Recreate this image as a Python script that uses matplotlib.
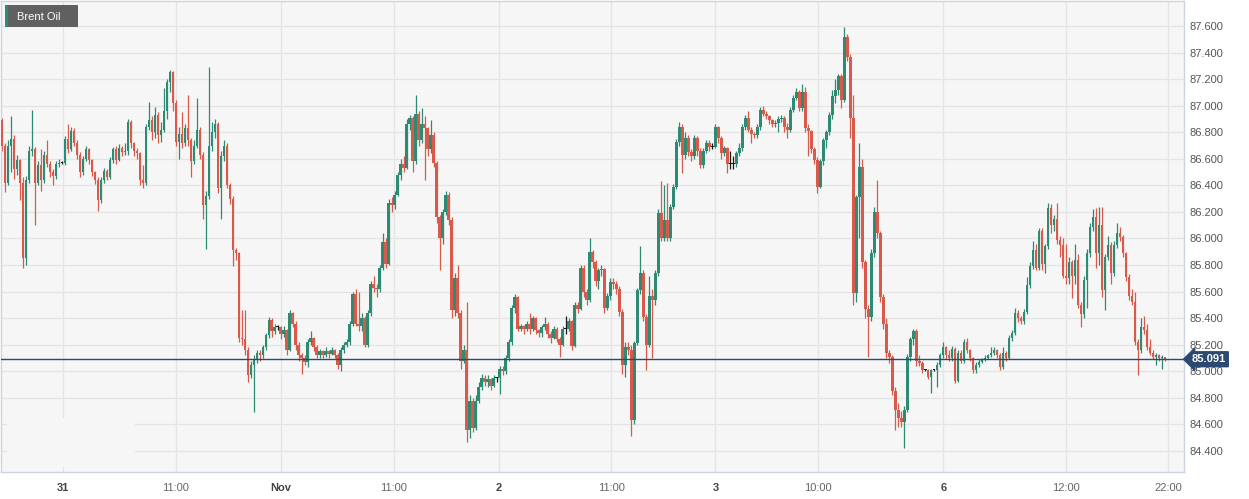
import numpy as np
import matplotlib.pyplot as plt
import matplotlib.patches as mpatches
import matplotlib.transforms as mtransforms

plt.rcParams['font.family'] = ['Liberation Sans', 'DejaVu Sans']

# -----------------------------------------
# Brent Oil candles, open = previous close
# -----------------------------------------
first_open = 86.89
last_price = 85.091

closes = [
    86.70, 86.42, 86.70, 86.75, 86.52, 86.59, 86.42, 85.85, 86.44, 86.66,
    86.67, 86.42, 86.55, 86.44, 86.63, 86.56, 86.50, 86.47, 86.56, 86.57,
    86.57, 86.75, 86.67, 86.81, 86.72, 86.63, 86.50, 86.60, 86.67, 86.59,
    86.50, 86.44, 86.29, 86.44, 86.51, 86.46, 86.59, 86.67, 86.59, 86.68,
    86.65, 86.66, 86.88, 86.72, 86.66, 86.64, 86.44, 86.42, 86.84, 86.89,
    86.80, 86.93, 86.78, 86.82, 86.96, 87.18, 87.25, 87.02, 86.73, 86.79,
    86.72, 86.83, 86.74, 86.58, 86.70, 86.82, 86.63, 86.25, 86.32, 86.70,
    86.80, 86.86, 86.38, 86.62, 86.70, 86.40, 86.30, 85.91, 85.89, 85.25,
    85.24, 85.16, 84.97, 85.05, 85.09, 85.14, 85.12, 85.18, 85.27, 85.39,
    85.30, 85.33, 85.33, 85.28, 85.31, 85.16, 85.44, 85.36, 85.20, 85.12,
    85.10, 85.07, 85.22, 85.25, 85.18, 85.12, 85.15, 85.12, 85.15, 85.13,
    85.16, 85.12, 85.05, 85.16, 85.20, 85.22, 85.36, 85.58, 85.36, 85.34,
    85.40, 85.20, 85.44, 85.66, 85.63, 85.62, 85.78, 85.97, 85.81, 86.27,
    86.25, 86.33, 86.48, 86.56, 86.53, 86.86, 86.91, 86.58, 86.94, 86.74,
    86.86, 86.83, 86.67, 86.78, 86.57, 86.16, 86.00, 86.20, 86.33, 86.14,
    85.46, 85.70, 85.44, 85.08, 85.16, 84.56, 84.78, 84.57, 84.78, 84.88,
    84.95, 84.92, 84.94, 84.89, 84.95, 84.95, 85.02, 85.00, 85.10, 85.22,
    85.48, 85.56, 85.32, 85.34, 85.32, 85.36, 85.32, 85.40, 85.31, 85.29,
    85.33, 85.36, 85.28, 85.25, 85.32, 85.24, 85.20, 85.32, 85.32, 85.38,
    85.19, 85.50, 85.47, 85.78, 85.60, 85.54, 85.90, 85.82, 85.68, 85.76,
    85.77, 85.48, 85.57, 85.67, 85.66, 85.62, 85.45, 85.05, 85.18, 85.16,
    84.63, 85.21, 85.61, 85.74, 85.41, 85.20, 85.57, 85.54, 85.74, 86.19,
    86.00, 86.14, 86.00, 86.24, 86.39, 86.73, 86.84, 86.63, 86.76, 86.65,
    86.62, 86.76, 86.66, 86.55, 86.66, 86.72, 86.69, 86.69, 86.84, 86.76,
    86.64, 86.68, 86.56, 86.56, 86.56, 86.64, 86.68, 86.84, 86.91, 86.82,
    86.79, 86.78, 86.84, 86.97, 86.94, 86.92, 86.89, 86.86, 86.87, 86.90,
    86.91, 86.84, 86.82, 86.97, 87.06, 87.10, 86.98, 87.10, 86.83, 86.81,
    86.67, 86.59, 86.39, 86.58, 86.74, 86.80, 86.93, 87.07, 87.12, 87.22,
    87.04, 87.52, 87.37, 86.91, 85.59, 86.31, 86.54, 85.82, 85.47, 85.41,
    85.89, 86.20, 86.04, 85.56, 85.36, 85.14, 85.11, 84.85, 84.71, 84.65,
    84.62, 84.71, 85.11, 85.24, 85.30, 85.08, 85.06, 85.01, 85.01, 84.96,
    85.01, 85.01, 85.05, 85.12, 85.18, 85.12, 85.10, 85.17, 84.93, 85.14,
    85.08, 85.22, 85.16, 85.10, 85.01, 85.05, 85.07, 85.09, 85.10, 85.12,
    85.14, 85.16, 85.12, 85.03, 85.14, 85.10, 85.25, 85.29, 85.44, 85.40,
    85.38, 85.45, 85.65, 85.79, 85.91, 85.78, 86.06, 85.81, 85.94, 86.23,
    86.10, 86.15, 85.99, 85.95, 85.72, 85.70, 85.82, 85.72, 85.84, 85.50,
    85.43, 85.69, 85.89, 86.09, 86.16, 85.89, 86.10, 85.61, 85.86, 85.95,
    85.74, 85.95, 86.04, 86.01, 85.89, 85.71, 85.57, 85.52, 85.22, 85.16,
    85.33, 85.31, 85.18, 85.14, 85.11, 85.12, 85.10, 85.11, 85.091,
]

highs = [
    86.91, 86.72, 86.74, 86.92, 86.78, 86.63, 86.60, 86.46, 86.47, 86.70,
    86.97, 86.69, 86.58, 86.67, 86.66, 86.74, 86.58, 86.52, 86.58, 86.60,
    86.58, 86.77, 86.86, 86.84, 86.83, 86.74, 86.65, 86.62, 86.70, 86.68,
    86.60, 86.51, 86.46, 86.46, 86.53, 86.52, 86.61, 86.69, 86.70, 86.71,
    86.70, 86.72, 86.90, 86.89, 86.73, 86.68, 86.65, 86.55, 86.86, 87.03,
    86.92, 86.99, 86.95, 86.88, 87.13, 87.20, 87.27, 87.26, 87.04, 86.84,
    86.95, 86.86, 87.08, 86.76, 86.74, 87.06, 86.84, 86.65, 86.36, 87.29,
    86.88, 86.90, 86.88, 86.66, 86.74, 86.72, 86.42, 86.32, 85.93, 85.90,
    85.46, 85.46, 85.18, 85.08, 85.12, 85.16, 85.16, 85.20, 85.29, 85.41,
    85.40, 85.36, 85.35, 85.34, 85.34, 85.32, 85.46, 85.45, 85.38, 85.22,
    85.14, 85.12, 85.24, 85.30, 85.26, 85.20, 85.17, 85.16, 85.18, 85.16,
    85.18, 85.17, 85.14, 85.18, 85.22, 85.24, 85.38, 85.60, 85.62, 85.60,
    85.44, 85.42, 85.46, 85.68, 85.72, 85.66, 85.80, 86.04, 86.00, 86.30,
    86.31, 86.36, 86.50, 86.60, 86.62, 86.90, 86.93, 86.92, 87.08, 86.96,
    86.98, 86.92, 86.84, 86.89, 86.80, 86.58, 86.18, 86.22, 86.36, 86.35,
    86.16, 85.74, 85.80, 85.46, 85.20, 85.52, 84.82, 84.80, 84.82, 84.92,
    84.98, 84.97, 84.97, 84.95, 84.97, 84.96, 85.04, 85.04, 85.12, 85.24,
    85.50, 85.58, 85.57, 85.36, 85.35, 85.38, 85.44, 85.42, 85.41, 85.32,
    85.35, 85.41, 85.37, 85.30, 85.34, 85.33, 85.26, 85.34, 85.42, 85.40,
    85.39, 85.52, 85.52, 85.80, 85.80, 85.62, 86.00, 85.91, 85.84, 85.78,
    85.80, 85.78, 85.59, 85.70, 85.70, 85.68, 85.64, 85.47, 85.22, 85.22,
    85.20, 85.23, 85.63, 85.94, 85.76, 85.43, 85.72, 85.62, 85.76, 86.22,
    86.43, 86.40, 86.42, 86.26, 86.41, 86.75, 86.88, 86.86, 86.80, 86.78,
    86.67, 86.78, 86.77, 86.68, 86.68, 86.74, 86.74, 86.72, 86.86, 86.85,
    86.77, 86.70, 86.69, 86.66, 86.62, 86.66, 86.72, 86.86, 86.93, 86.96,
    86.84, 86.80, 86.86, 86.99, 87.00, 86.96, 86.93, 86.90, 86.89, 86.92,
    86.93, 86.92, 86.87, 86.99, 87.08, 87.13, 87.12, 87.16, 87.14, 86.86,
    86.82, 86.69, 86.61, 86.60, 86.76, 86.82, 86.95, 87.12, 87.20, 87.24,
    87.24, 87.59, 87.54, 87.39, 87.08, 86.33, 86.72, 86.60, 85.84, 85.50,
    85.92, 86.24, 86.44, 86.06, 85.58, 85.40, 85.16, 85.12, 84.88, 84.76,
    84.70, 84.74, 85.13, 85.26, 85.32, 85.32, 85.12, 85.08, 85.02, 85.02,
    85.02, 85.02, 85.07, 85.14, 85.22, 85.19, 85.16, 85.19, 85.18, 85.16,
    85.16, 85.24, 85.25, 85.17, 85.11, 85.07, 85.09, 85.10, 85.12, 85.13,
    85.18, 85.18, 85.17, 85.14, 85.18, 85.15, 85.27, 85.31, 85.48, 85.46,
    85.42, 85.47, 85.71, 85.82, 85.98, 85.96, 86.08, 86.08, 85.96, 86.27,
    86.26, 86.18, 86.27, 86.02, 86.00, 85.96, 85.86, 85.84, 85.96, 85.88,
    85.52, 85.72, 85.92, 86.12, 86.22, 86.23, 86.24, 86.24, 85.88, 86.02,
    85.97, 85.98, 86.12, 86.09, 86.03, 85.90, 85.73, 85.62, 85.60, 85.24,
    85.40, 85.42, 85.36, 85.24, 85.16, 85.14, 85.13, 85.12, 85.11,
]

lows = [
    86.66, 86.35, 86.40, 86.50, 86.45, 86.48, 86.29, 85.78, 85.80, 86.42,
    86.62, 86.10, 86.40, 86.36, 86.42, 86.54, 86.46, 86.40, 86.45, 86.54,
    86.56, 86.55, 86.64, 86.66, 86.70, 86.60, 86.46, 86.48, 86.58, 86.56,
    86.47, 86.41, 86.21, 86.27, 86.42, 86.44, 86.45, 86.57, 86.56, 86.58,
    86.62, 86.63, 86.63, 86.68, 86.62, 86.60, 86.40, 86.38, 86.40, 86.82,
    86.74, 86.76, 86.72, 86.73, 86.80, 86.90, 87.10, 86.96, 86.70, 86.60,
    86.68, 86.70, 86.70, 86.46, 86.56, 86.68, 86.60, 86.15, 85.92, 86.30,
    86.66, 86.76, 86.34, 86.15, 86.58, 86.38, 86.26, 85.79, 85.84, 85.22,
    85.20, 85.12, 84.92, 84.95, 84.69, 85.06, 85.08, 85.10, 85.16, 85.25,
    85.26, 85.28, 85.31, 85.24, 85.26, 85.12, 85.15, 85.33, 85.16, 85.08,
    84.98, 85.05, 85.03, 85.20, 85.15, 85.10, 85.10, 85.10, 85.11, 85.10,
    85.12, 85.10, 85.02, 85.00, 85.14, 85.18, 85.20, 85.34, 85.34, 85.30,
    85.30, 85.18, 85.18, 85.42, 85.60, 85.56, 85.60, 85.76, 85.78, 85.80,
    86.20, 86.22, 86.32, 86.44, 86.50, 86.52, 86.82, 86.50, 86.56, 86.70,
    86.72, 86.44, 86.62, 86.64, 86.54, 86.12, 85.76, 85.96, 86.18, 86.10,
    85.40, 85.42, 85.40, 85.02, 85.06, 84.47, 84.50, 84.54, 84.56, 84.76,
    84.86, 84.89, 84.88, 84.86, 84.88, 84.92, 84.83, 84.97, 84.98, 85.08,
    85.20, 85.44, 85.30, 85.30, 85.28, 85.30, 85.28, 85.30, 85.28, 85.26,
    85.26, 85.31, 85.25, 85.21, 85.24, 85.22, 85.11, 85.19, 85.28, 85.30,
    85.16, 85.18, 85.44, 85.46, 85.56, 85.50, 85.52, 85.78, 85.64, 85.62,
    85.72, 85.44, 85.46, 85.54, 85.62, 85.58, 85.42, 84.98, 84.96, 85.12,
    84.51, 84.60, 85.20, 85.58, 85.38, 85.01, 85.18, 85.10, 85.50, 85.72,
    85.98, 85.98, 85.98, 85.98, 86.22, 86.37, 86.70, 86.49, 86.60, 86.62,
    86.58, 86.60, 86.62, 86.53, 86.53, 86.64, 86.66, 86.67, 86.68, 86.72,
    86.60, 86.62, 86.49, 86.52, 86.52, 86.54, 86.62, 86.66, 86.82, 86.80,
    86.72, 86.76, 86.76, 86.82, 86.92, 86.90, 86.86, 86.84, 86.84, 86.80,
    86.88, 86.80, 86.76, 86.80, 86.95, 87.04, 86.96, 86.96, 86.80, 86.62,
    86.64, 86.56, 86.34, 86.38, 86.55, 86.68, 86.78, 86.90, 87.02, 87.08,
    86.98, 87.03, 87.34, 86.76, 85.50, 85.52, 86.00, 85.78, 85.40, 85.11,
    85.38, 85.86, 86.00, 85.52, 85.32, 85.10, 85.06, 84.82, 84.56, 84.58,
    84.58, 84.42, 84.69, 85.08, 85.20, 85.04, 85.04, 84.99, 85.00, 84.94,
    84.84, 85.00, 84.88, 85.03, 85.10, 85.09, 85.08, 85.08, 84.91, 84.92,
    85.06, 85.06, 85.14, 85.08, 84.99, 84.99, 85.03, 85.06, 85.08, 85.09,
    85.11, 85.12, 85.10, 85.01, 85.02, 85.08, 85.09, 85.23, 85.27, 85.37,
    85.36, 85.36, 85.43, 85.63, 85.77, 85.76, 85.76, 85.76, 85.74, 85.92,
    86.04, 86.06, 85.96, 85.86, 85.70, 85.66, 85.66, 85.55, 85.66, 85.48,
    85.33, 85.40, 85.48, 85.86, 86.06, 85.78, 85.80, 85.56, 85.46, 85.84,
    85.66, 85.72, 85.93, 85.98, 85.86, 85.68, 85.54, 85.50, 85.20, 84.97,
    85.14, 85.28, 85.16, 85.12, 85.09, 85.05, 85.08, 85.02, 85.08,
]

# x-axis labels and the candle index they sit at
tick_labels = ['31', '11:00', 'Nov', '11:00', '2', '11:00', '3', '10:00', '6', '12:00', '22:00']
tick_pos = [20.33, 58, 93, 130.67, 165.67, 203.33, 238, 272.33, 314, 355, 389]
day_labels = {'31', 'Nov', '2', '3', '6'}

GREEN = '#2e8b73'
RED = '#d9594a'
BG = '#f6f6f6'
GRID = '#e4e4e4'

# -----------------------------------------
# Build candles
# -----------------------------------------
closes = np.array(closes)
opens = np.concatenate([[first_open], closes[:-1]])
highs = np.maximum(np.array(highs), np.maximum(opens, closes))
lows = np.minimum(np.array(lows), np.minimum(opens, closes))
x = np.arange(len(closes))

colors = np.where(closes > opens + 1e-9, GREEN,
                  np.where(closes < opens - 1e-9, RED, '#1a1a1a'))
bottoms = np.minimum(opens, closes)
heights = np.maximum(np.abs(closes - opens), 0.008)

W, H = 1249, 499
fig = plt.figure(figsize=(W / 100, H / 100), dpi=100)
fig.patch.set_facecolor('white')
ax = fig.add_axes([1 / W, 27 / H, 1183 / W, 471 / H])
ax.set_facecolor(BG)

ax.vlines(x, lows, highs, colors=colors, linewidth=0.9, zorder=2)
ax.bar(x, heights, bottom=bottoms, width=0.85, color=colors, linewidth=0, zorder=3)

# last price line + tag
ax.axhline(last_price, color='#2b4a72', linewidth=1.0, zorder=4)
trans = mtransforms.blended_transform_factory(ax.transAxes, ax.transData)
ax.text(1.0065, last_price, f'{last_price:.3f}', transform=trans, ha='left', va='center',
        color='white', fontsize=8, fontweight='bold', zorder=6, clip_on=False,
        bbox=dict(boxstyle='larrow,pad=0.22', fc='#2b4a72', ec='#2b4a72'))

# axes
ax.set_xlim(-1 / 3, 394.33)
ax.set_ylim(84.242, 87.788)
yt = np.arange(84.4, 87.61, 0.2)
ax.set_yticks(yt)
ax.set_yticklabels([f'{v:.3f}' for v in yt])
ax.yaxis.tick_right()
ax.tick_params(axis='y', length=0, pad=4, labelsize=8, labelcolor='#555555')
ax.set_xticks(tick_pos)
ax.set_xticklabels(tick_labels)
ax.tick_params(axis='x', length=0, pad=8, labelsize=8, labelcolor='#666666')
for lab in ax.get_xticklabels():
    if lab.get_text() in day_labels:
        lab.set_fontweight('bold')
        lab.set_color('#444444')

ax.set_axisbelow(True)
ax.grid(True, color=GRID, linewidth=0.9)
for sp in ax.spines.values():
    sp.set_color('#cbd3e4')
    sp.set_linewidth(1.0)

# faint patch in lower-left corner that hides the grid there
ax.add_patch(mpatches.Rectangle((6 / 1183, 5 / 471), 128 / 1183, 49 / 471,
                                transform=ax.transAxes, facecolor=BG,
                                edgecolor='none', zorder=1))

# "Brent Oil" tag
fig.add_artist(mpatches.Rectangle((5 / W, 1 - 27 / H), 73 / W, 22 / H,
                                  transform=fig.transFigure, facecolor='#606060',
                                  edgecolor='none', zorder=10))
fig.add_artist(mpatches.Rectangle((5 / W, 1 - 27 / H), 3 / W, 22 / H,
                                  transform=fig.transFigure, facecolor=GREEN,
                                  edgecolor='none', zorder=11))
fig.text(17 / W, 1 - 16.5 / H, 'Brent Oil', color='white', fontsize=8,
         va='center', ha='left', zorder=12)

fig.savefig('out.png', dpi=100)
